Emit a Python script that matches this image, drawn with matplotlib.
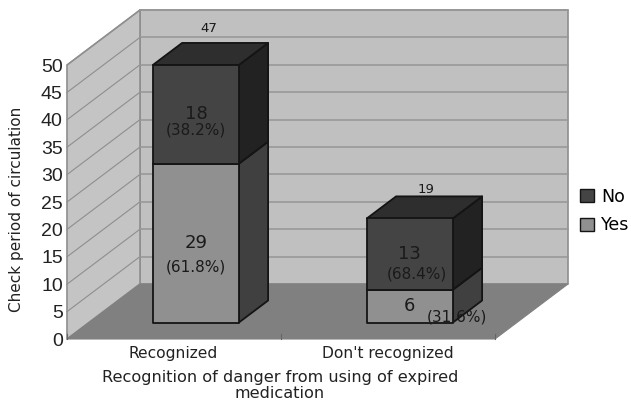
import matplotlib
matplotlib.use("Agg")
from matplotlib import pyplot as plt
from matplotlib.patches import Patch, Polygon

categories = ["Recognized", "Don't recognized"]
yes_values = [29, 6]
no_values = [18, 13]
totals = [47, 19]
yes_pct = ["(61.8%)", "(31.6%)"]
no_pct = ["(38.2%)", "(68.4%)"]
y_ticks = list(range(0, 55, 5))

xlabel = "Recognition of danger from using of expired\nmedication"
ylabel = "Check period of circulation"

# fake 3d: how far the back wall is shifted, in data units
DX = 73 / 214
DY = 55 / 5.48
BAR_W = 86 / 214
FRONT = 0.3
BACK = 0.7

plt.rcParams["font.family"] = "DejaVu Sans"
fig = plt.figure(figsize=(6.31, 4.03), dpi=100)
ax = fig.add_axes([67 / 631, (403 - 339) / 403, 428 / 631, 274 / 403])
ax.set_xlim(0, 2)
ax.set_ylim(0, 50)
for s in ax.spines.values():
    s.set_visible(False)


def pt(x, v, d):
    return (x + d * DX, v + d * DY)


def poly(points, fc, ec, lw, z):
    ax.add_patch(Polygon(points, closed=True, facecolor=fc, edgecolor=ec,
                         linewidth=lw, zorder=z, clip_on=False, joinstyle="round"))


wall = "#c0c0c0"
line = "#8e8e8e"
poly([pt(0, 0, 1), pt(2, 0, 1), pt(2, 50, 1), pt(0, 50, 1)], wall, line, 1.2, 1)
poly([pt(0, 0, 0), pt(0, 0, 1), pt(0, 50, 1), pt(0, 50, 0)], "#c4c4c4", line, 1.2, 1)
poly([pt(0, 0, 0), pt(2, 0, 0), pt(2, 0, 1), pt(0, 0, 1)], "#808080", "#808080", 0.8, 2)

for t in y_ticks[1:]:
    xs, ys = zip(pt(0, t, 0), pt(0, t, 1))
    ax.plot(xs, ys, color="#8e8e8e", lw=0.8, zorder=1.5, clip_on=False)
    xs, ys = zip(pt(0, t, 1), pt(2, t, 1))
    ax.plot(xs, ys, color="#969696", lw=1.1, zorder=1.5, clip_on=False)
for i in range(3):
    ax.plot([i, i], [0, 0.9], color="#666666", lw=0.8, zorder=3, clip_on=False)


def box(x0, v0, v1, front, top, side, z):
    edge = "#141414"
    x1 = x0 + BAR_W
    poly([pt(x1, v0, FRONT), pt(x1, v0, BACK), pt(x1, v1, BACK), pt(x1, v1, FRONT)], side, edge, 1.3, z)
    poly([pt(x0, v1, FRONT), pt(x1, v1, FRONT), pt(x1, v1, BACK), pt(x0, v1, BACK)], top, edge, 1.3, z)
    poly([pt(x0, v0, FRONT), pt(x1, v0, FRONT), pt(x1, v1, FRONT), pt(x0, v1, FRONT)], front, edge, 1.3, z)


yes_off = [[0, -24], [47, -11]]
no_off = [[0, -16], [7, -20]]
total_off = [[13, 36], [16, 29]]
for i in range(2):
    x0 = i + 0.5 - BAR_W / 2
    box(x0, 0, yes_values[i], "#909090", "#909090", "#404040", 4)
    box(x0, yes_values[i], totals[i], "#444444", "#2e2e2e", "#222222", 5)
    cx, _ = pt(i + 0.5, 0, FRONT)
    _, ym = pt(0, yes_values[i] / 2, FRONT)
    ax.annotate(str(yes_values[i]), (cx, ym), xytext=(0, 0), textcoords="offset pixels",
                ha="center", va="center", fontsize=13, color="#1a1a1a", zorder=8)
    ax.annotate(yes_pct[i], (cx, ym), xytext=yes_off[i], textcoords="offset pixels",
                ha="center", va="center", fontsize=11, color="#1a1a1a", zorder=8)
    _, ym = pt(0, yes_values[i] + no_values[i] / 2, FRONT)
    ax.annotate(str(no_values[i]), (cx, ym), xytext=(0, 0), textcoords="offset pixels",
                ha="center", va="center", fontsize=13, color="#1a1a1a", zorder=8)
    ax.annotate(no_pct[i], (cx, ym), xytext=no_off[i], textcoords="offset pixels",
                ha="center", va="center", fontsize=11, color="#1a1a1a", zorder=8)
    _, yt = pt(0, totals[i], FRONT)
    ax.annotate(str(totals[i]), (cx, yt), xytext=total_off[i], textcoords="offset pixels",
                ha="center", va="center", fontsize=9.5, color="#1a1a1a", zorder=8)

ax.set_yticks(y_ticks)
ax.set_yticklabels([str(t) for t in y_ticks], fontsize=14, color="#222222", family="Liberation Sans")
ax.set_xticks([0.495, 1.5])
ax.set_xticklabels(categories, fontsize=11.2, color="#222222")
ax.tick_params(axis="both", length=0)
ax.tick_params(axis="y", pad=3)
ax.tick_params(axis="x", pad=5)
ax.set_xlabel(xlabel, fontsize=11.6, color="#222222", linespacing=1.1)
ax.xaxis.set_label_coords(213 / 428, -31 / 274)
ax.xaxis.label.set_va("top")
ax.set_ylabel(ylabel, fontsize=11, color="#222222")
ax.yaxis.set_label_coords(-43 / 428, 130 / 274)
ax.yaxis.label.set_va("bottom")
ax.set_zorder(2)

handles = [Patch(facecolor="#444444", edgecolor="#141414", label="No"),
           Patch(facecolor="#909090", edgecolor="#141414", label="Yes")]
fig.legend(handles=handles, loc="center left", bbox_to_anchor=(577 / 631, 1 - 211 / 403),
           frameon=False, fontsize=12.5, handlelength=0.76, handleheight=0.76,
           handletextpad=0.45, labelspacing=0.6, borderpad=0.2, borderaxespad=0)

fig.savefig("out.png", dpi=100, facecolor="white")
